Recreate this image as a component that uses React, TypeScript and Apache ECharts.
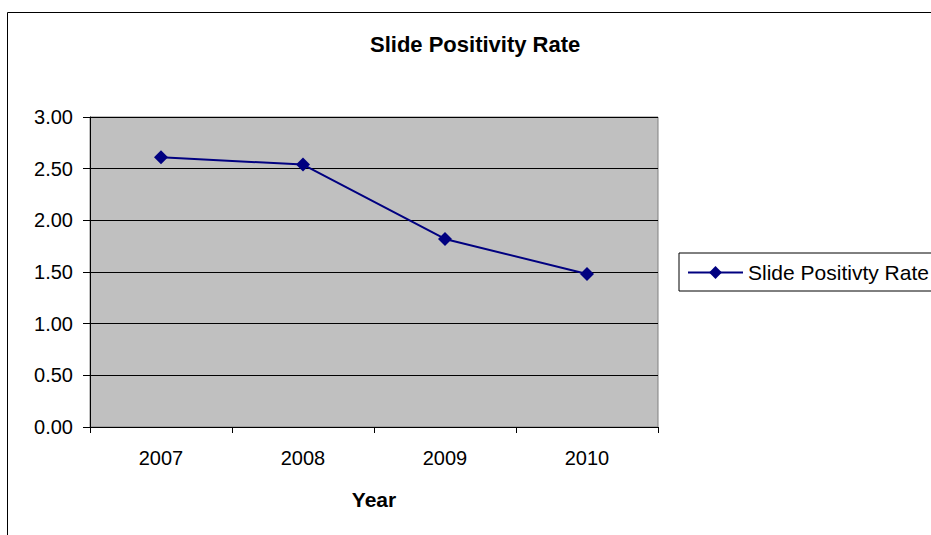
import React, { useEffect, useRef } from "react";
import * as echarts from "echarts";

const years = ["2007", "2008", "2009", "2010"];
const positivityRate = [2.61, 2.54, 1.82, 1.48];
const chartTitle = "Slide Positivity Rate";
const seriesName = "Slide Positivty Rate";
const xAxisTitle = "Year";

const FONT = '"Liberation Sans", Arial, Helvetica, sans-serif';

export default function App() {
  const ref = useRef<HTMLDivElement>(null);

  useEffect(() => {
    if (!ref.current) return;
    const chart = echarts.init(ref.current, null, { renderer: "svg" });
    chart.setOption({
      animation: false,
      backgroundColor: "#ffffff",
      textStyle: { fontFamily: FONT },
      title: {
        text: chartTitle,
        left: 370,
        top: 33,
        padding: 0,
        textStyle: { fontFamily: FONT, fontSize: 22, fontWeight: "bold", color: "#000" },
      },
      graphic: [
        {
          type: "rect",
          z: -10,
          shape: { x: 7.5, y: 12.5, width: 1000, height: 600 },
          style: { fill: "none", stroke: "#000", lineWidth: 1 },
        },
      ],
      legend: {
        left: 679,
        top: 253,
        orient: "vertical",
        borderColor: "#000",
        borderWidth: 1,
        padding: [9, 40, 8, 8],
        itemWidth: 55,
        itemHeight: 16,
        textStyle: { fontFamily: FONT, fontSize: 21, color: "#000" },
        data: [seriesName],
      },
      grid: {
        left: 90,
        top: 117,
        width: 568,
        height: 310,
        show: true,
        backgroundColor: "#c0c0c0",
        borderColor: "#808080",
        borderWidth: 1,
      },
      xAxis: {
        type: "category",
        data: years,
        boundaryGap: true,
        name: xAxisTitle,
        nameLocation: "middle",
        nameGap: 62,
        nameTextStyle: { fontFamily: FONT, fontSize: 21, fontWeight: "bold", color: "#000" },
        axisLine: { show: true, lineStyle: { color: "#000", width: 1 } },
        axisTick: { show: true, length: 6, lineStyle: { color: "#000" } },
        axisLabel: { fontFamily: FONT, fontSize: 20, color: "#000", margin: 21 },
        splitLine: { show: false },
      },
      yAxis: {
        type: "value",
        min: 0,
        max: 3,
        interval: 0.5,
        axisLine: { show: true, lineStyle: { color: "#000", width: 1 } },
        axisTick: { show: true, length: 7, lineStyle: { color: "#000" } },
        axisLabel: {
          fontFamily: FONT,
          fontSize: 20,
          color: "#000",
          margin: 17,
          formatter: (v: number) => v.toFixed(2),
        },
        splitLine: { show: true, lineStyle: { color: "#000", width: 1 } },
      },
      series: [
        {
          name: seriesName,
          type: "line",
          data: positivityRate,
          color: "#000080",
          symbol: "diamond",
          symbolSize: 14,
          lineStyle: { color: "#000080", width: 2 },
          itemStyle: { color: "#000080" },
        },
      ],
    });
    return () => chart.dispose();
  }, []);

  return (
    <div
      ref={ref}
      style={{ position: "fixed", left: 0, top: 0, width: 931, height: 535, background: "#fff" }}
    />
  );
}
